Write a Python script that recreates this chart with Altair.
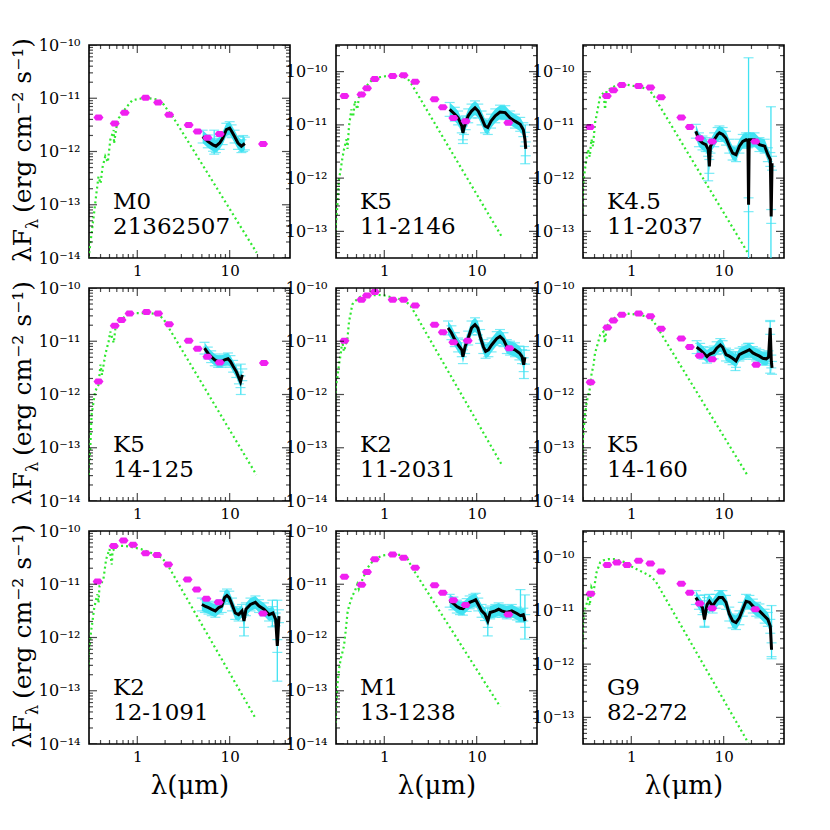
import altair as alt
import pandas as pd

FONT = "DejaVu Serif"
GREEN = "#2fe82f"
MAGENTA = "#f020f0"
CYAN = "#40e2f2"

PANEL_W, PANEL_H = 201, 213
X_DOMAIN = [0.3, 45.0]
X_LABEL_VALUES = [1, 10]
X_MINOR = [0.3, 0.4, 0.5, 0.6, 0.7, 0.8, 0.9, 2, 3, 4, 5, 6, 7, 8, 9, 20, 30, 40]

SPTYPE = ["M0", "K5", "K4.5", "K5", "K2", "K5", "K2", "M1", "G9"]
STAR_ID = ["21362507", "11-2146", "11-2037", "14-125", "11-2031", "14-160",
           "12-1091", "13-1238", "82-272"]
# log10 of the y-axis range (erg cm^-2 s^-1)
LOGY_RANGE = [(-14, -10), (-13.5, -9.5), (-13.5, -9.5),
              (-14, -10), (-14, -10), (-14, -10),
              (-14, -10), (-14, -10), (-13.5, -9.5)]

YTITLE = ["λF", "λ", "(erg cm⁻² s⁻¹)"]
XTITLE = "λ(μm)"

# photometry: wavelength (um) and log10(lambda F_lambda)
PHOT_WL = [
    [0.38, 0.57, 0.73, 1.23, 1.68, 2.21, 3.6, 4.5, 5.75, 7.8, 23],
    [0.37, 0.566, 0.65, 0.79, 1.23, 1.62, 2.16, 3.5, 4.3, 5.6, 7.6, 22],
    [0.357, 0.543, 0.64, 0.79, 1.2, 1.61, 2.1, 3.48, 4.3, 5.5, 7.5, 22],
    [0.38, 0.57, 0.675, 0.825, 1.26, 1.68, 2.21, 3.6, 4.5, 5.75, 7.8, 23.5],
    [0.37, 0.566, 0.65, 0.79, 1.23, 1.62, 2.16, 3.5, 4.3, 5.6, 8.0, 22.6],
    [0.363, 0.55, 0.64, 0.79, 1.2, 1.61, 2.1, 3.48, 4.3, 5.5, 7.5, 22.5],
    [0.372, 0.556, 0.71, 0.9, 1.23, 1.64, 2.16, 3.5, 4.4, 5.6, 7.6, 23],
    [0.37, 0.566, 0.65, 0.79, 1.23, 1.62, 2.16, 3.5, 4.3, 5.6, 7.6, 22],
    [0.363, 0.55, 0.70, 0.9, 1.2, 1.61, 2.1, 3.48, 4.3, 5.5, 7.5, 22],
]
PHOT_LOGF = [
    [-11.36, -11.475, -11.27, -10.99, -11.08, -11.31, -11.5, -11.625, -11.74, -11.67, -11.86],
    [-10.46, -10.43, -10.31, -10.14, -10.08, -10.07, -10.19, -10.52, -10.67, -10.87, -10.93, -10.96],
    [-11.04, -10.46, -10.35, -10.25, -10.27, -10.30, -10.48, -10.86, -11.04, -11.25, -11.31, -11.31],
    [-11.755, -10.71, -10.6, -10.48, -10.45, -10.48, -10.68, -10.99, -11.14, -11.29, -11.40, -11.41],
    [-10.99, -10.22, -10.14, -10.075, -10.22, -10.22, -10.33, -10.69, -10.83, -11.02, -10.99, -11.13],
    [-11.77, -10.74, -10.61, -10.5, -10.48, -10.53, -10.765, -10.95, -11.11, -11.27, -11.34, -11.44],
    [-10.95, -10.28, -10.18, -10.26, -10.42, -10.45, -10.63, -10.91, -11.1, -11.27, -11.34, -11.55],
    [-10.86, -11.01, -10.77, -10.53, -10.44, -10.5, -10.69, -11.02, -11.16, -11.3, -11.39, -11.57],
    [-10.68, -10.14, -10.09, -10.14, -10.06, -10.11, -10.26, -10.49, -10.66, -10.86, -10.95, -10.97],
]

# photospheric model: (wavelength um, log10 flux)
MODEL = [
    [(0.297, -14.0), (0.337, -13.22), (0.36, -12.8), (0.38, -12.47), (0.40, -12.6), (0.42, -12.3),
     (0.45, -12.09), (0.48, -12.2), (0.51, -11.78), (0.556, -11.6), (0.56, -11.85), (0.6, -11.5),
     (0.63, -11.375), (0.746, -11.19), (0.88, -11.04), (1.04, -11.01), (1.34, -11.0), (1.72, -11.03),
     (1.95, -11.125), (2.12, -11.22), (2.41, -11.34), (19.6, -13.9)],
    [(0.285, -13.35), (0.297, -12.97), (0.31, -12.53), (0.323, -12.03), (0.337, -11.84), (0.35, -11.65),
     (0.366, -11.46), (0.39, -11.27), (0.40, -11.45), (0.415, -11.02), (0.44, -10.71), (0.46, -10.85),
     (0.48, -10.55), (0.51, -10.71), (0.53, -10.49), (0.6, -10.33), (0.715, -10.18), (0.85, -10.11),
     (1.09, -10.08), (1.52, -10.08), (1.8, -10.14), (1.95, -10.22), (18.7, -13.1)],
    [(0.283, -13.6), (0.29, -12.97), (0.30, -12.15), (0.315, -11.84), (0.33, -11.59), (0.34, -11.46),
     (0.355, -11.6), (0.37, -11.27), (0.385, -11.4), (0.405, -10.96), (0.42, -10.83), (0.46, -10.46),
     (0.5, -10.40), (0.52, -10.71), (0.54, -10.36), (0.615, -10.30), (0.73, -10.24), (0.86, -10.24),
     (1.15, -10.28), (1.55, -10.33), (1.75, -10.46), (18.5, -13.42)],
    [(0.297, -13.51), (0.31, -13.0), (0.32, -12.38), (0.35, -11.94), (0.38, -11.82), (0.4, -11.44),
     (0.415, -11.63), (0.45, -11.25), (0.49, -11.0), (0.51, -10.82), (0.556, -11.03), (0.58, -10.75),
     (0.66, -10.6), (0.78, -10.5), (0.96, -10.47), (1.34, -10.47), (1.72, -10.5), (1.95, -10.6),
     (19.5, -13.51)],
    [(0.285, -12.63), (0.297, -11.88), (0.31, -11.69), (0.323, -11.44), (0.337, -11.25), (0.35, -11.0),
     (0.366, -11.19), (0.4, -10.94), (0.415, -10.63), (0.43, -10.5), (0.45, -10.31), (0.48, -10.25),
     (0.556, -10.16), (0.66, -10.14), (0.85, -10.13), (1.0, -10.14), (1.29, -10.19), (1.65, -10.22),
     (1.95, -10.35), (18.7, -13.32)],
    [(0.29, -13.51), (0.30, -12.82), (0.315, -12.38), (0.33, -12.13), (0.357, -11.88), (0.37, -11.63),
     (0.39, -11.44), (0.405, -11.22), (0.42, -11.13), (0.46, -10.88), (0.5, -10.82), (0.52, -11.03),
     (0.54, -10.72), (0.615, -10.6), (0.73, -10.51), (0.9, -10.48), (1.15, -10.5), (1.55, -10.54),
     (1.75, -10.63), (18.0, -13.51)],
    [(0.29, -12.79), (0.30, -12.29), (0.315, -11.91), (0.34, -11.47), (0.357, -11.29), (0.37, -11.19),
     (0.38, -11.35), (0.39, -11.03), (0.405, -11.0), (0.43, -10.9), (0.46, -10.53), (0.5, -10.34),
     (0.53, -10.63), (0.54, -10.37), (0.615, -10.28), (0.73, -10.28), (0.86, -10.3), (1.1, -10.34),
     (1.55, -10.44), (1.83, -10.5), (2.07, -10.6), (18.7, -13.49)],
    [(0.285, -13.98), (0.297, -13.54), (0.31, -12.92), (0.323, -12.6), (0.337, -12.41), (0.366, -12.16),
     (0.38, -11.91), (0.40, -11.53), (0.415, -11.41), (0.45, -11.22), (0.48, -11.13), (0.51, -11.0),
     (0.53, -11.09), (0.58, -10.91), (0.66, -10.69), (0.78, -10.53), (0.96, -10.46), (1.18, -10.44),
     (1.52, -10.45), (1.8, -10.53), (2.0, -10.69), (18.0, -13.3)],
    [(0.29, -11.91), (0.30, -11.22), (0.315, -10.97), (0.34, -10.78), (0.355, -10.9), (0.37, -10.56),
     (0.39, -10.65), (0.42, -10.28), (0.46, -10.09), (0.5, -10.05), (0.565, -10.03), (0.67, -10.03),
     (0.83, -10.08), (1.06, -10.19), (1.36, -10.28), (1.61, -10.35), (1.83, -10.44), (18.5, -13.48)],
]

# IRS spectrum: (wavelength um, log10 flux)
SPEC = [
    [(5.1, -11.72), (5.8, -11.81), (6.6, -11.875), (7.1, -11.9), (7.8, -11.84), (8.4, -11.75),
     (9.2, -11.59), (10.0, -11.56), (10.5, -11.62), (11.3, -11.72), (12.3, -11.84), (13.4, -11.9),
     (14.6, -11.85)],
    [(5.1, -10.71), (5.8, -10.8), (6.3, -10.87), (6.9, -11.02), (7.1, -11.15), (7.3, -11.05),
     (7.6, -10.96), (8.1, -10.83), (8.8, -10.74), (9.6, -10.68), (10.4, -10.74), (11.3, -10.87),
     (12.3, -11.02), (13.2, -11.05), (14.3, -10.93), (15.9, -10.83), (17.9, -10.76), (20.4, -10.77),
     (23, -10.87), (26, -10.93), (29.6, -10.99), (32, -11.09), (33.3, -11.27), (34, -11.45)],
    [(5.0, -11.12), (5.4, -11.28), (5.9, -11.34), (6.4, -11.37), (6.8, -11.46), (7.0, -11.78),
     (7.2, -11.4), (7.9, -11.28), (8.6, -11.18), (9.0, -11.15), (9.75, -11.18), (10.6, -11.25),
     (11.5, -11.4), (12.5, -11.53), (13.6, -11.56), (14.8, -11.4), (16.1, -11.31), (17.5, -11.28),
     (18.3, -11.3), (18.6, -12.5), (18.9, -11.28), (21.6, -11.28), (24.4, -11.37), (27.8, -11.4),
     (30.1, -11.56), (32.0, -11.65), (32.7, -12.72), (33.4, -11.72)],
    [(5.34, -11.13), (5.8, -11.22), (6.3, -11.29), (6.9, -11.35), (7.5, -11.38), (8.1, -11.38),
     (8.8, -11.35), (9.6, -11.33), (10.2, -11.38), (10.9, -11.47), (11.8, -11.57), (12.6, -11.69),
     (13.1, -11.76), (13.7, -11.63)],
    [(4.9, -10.75), (5.33, -10.84), (5.8, -10.97), (6.3, -11.07), (6.9, -11.16), (7.1, -11.29),
     (7.5, -11.1), (8.1, -10.94), (8.8, -10.75), (9.6, -10.69), (10.3, -10.75), (10.9, -10.91),
     (11.8, -11.1), (12.5, -11.19), (13.4, -11.16), (14.5, -11.07), (16.5, -10.95), (17.9, -10.91),
     (19.5, -10.97), (21.2, -11.1), (23, -11.13), (26, -11.16), (29, -11.22), (31, -11.29),
     (32.3, -11.44), (33.3, -11.3)],
    [(5.1, -11.11), (5.56, -11.16), (6.05, -11.22), (6.6, -11.29), (7.1, -11.24), (7.8, -11.21),
     (8.4, -11.13), (9.2, -11.07), (9.75, -11.11), (10.6, -11.25), (11.5, -11.28), (12.5, -11.32),
     (13.6, -11.37), (14.8, -11.25), (16.1, -11.22), (17.5, -11.19), (19.0, -11.16), (20.7, -11.22),
     (22.5, -11.25), (24.4, -11.28), (26.5, -11.32), (28.9, -11.33), (30.6, -11.3), (31.9, -10.75),
     (32.8, -11.38), (33.4, -11.5)],
    [(5.0, -11.38), (5.4, -11.41), (5.9, -11.44), (6.4, -11.47), (7.0, -11.5), (7.6, -11.44),
     (8.2, -11.41), (8.8, -11.25), (9.35, -11.21), (9.9, -11.25), (10.6, -11.38), (11.5, -11.54),
     (12.5, -11.57), (13.6, -11.5), (14.3, -11.69), (15.0, -11.47), (16.8, -11.38), (19.0, -11.34),
     (20.8, -11.41), (23.5, -11.47), (26.7, -11.57), (29.4, -11.54), (31.5, -11.66), (32.8, -12.16),
     (34.2, -11.6)],
    [(5.1, -11.31), (5.6, -11.36), (6.1, -11.42), (6.6, -11.45), (7.1, -11.46), (7.8, -11.39),
     (8.4, -11.34), (9.2, -11.31), (9.75, -11.29), (10.4, -11.38), (11.3, -11.5), (12.3, -11.56),
     (13.2, -11.69), (14.0, -11.53), (15.9, -11.5), (17.3, -11.47), (18.7, -11.5), (21.2, -11.53),
     (24, -11.5), (27.3, -11.55), (29.8, -11.59), (32, -11.57), (33.5, -11.69)],
    [(5.0, -10.75), (5.4, -10.84), (5.9, -10.94), (6.2, -11.16), (6.6, -10.88), (7.0, -10.82),
     (7.6, -10.91), (8.2, -10.82), (8.9, -10.75), (9.7, -10.75), (10.6, -10.84), (11.5, -11.06),
     (12.5, -11.19), (13.6, -11.22), (14.8, -11.13), (16.1, -10.97), (17.5, -10.82), (19, -10.84),
     (20.7, -10.91), (22.5, -10.97), (24.4, -11.0), (27.8, -11.1), (30.1, -11.16), (32, -11.29),
     (33, -11.73)],
]
# half-width of the cyan error envelope, in dex
SPEC_ERR_DEX = [0.12, 0.13, 0.13, 0.11, 0.13, 0.12, 0.12, 0.12, 0.13]

# large individual error bars: (wavelength, log10 low, log10 high)
ERRBARS = [
    [(6.8, -12.05, -11.6), (14.0, -12.0, -11.7)],
    [(7.1, -11.35, -10.85), (33.5, -11.73, -11.0)],
    [(18.6, -13.6, -9.74), (32.5, -13.6, -10.66), (6.8, -12.05, -11.5)],
    [(13.2, -12.0, -11.43)],
    [(32.5, -11.7, -11.1)],
    [(31.9, -11.6, -10.61), (13.4, -11.55, -11.2), (18.3, -11.3, -11.04)],
    [(32.8, -12.82, -11.3), (14.3, -11.97, -11.5), (29.0, -11.8, -11.3)],
    [(13.2, -11.97, -11.45), (33.3, -12.03, -11.2), (29.8, -11.7, -11.1)],
    [(6.2, -11.31, -10.7), (33.0, -11.9, -10.9)],
]

SUP = str.maketrans("-0123456789", "⁻⁰¹²³⁴⁵⁶⁷⁸⁹")
PHOT_SHAPE = "M-1,0L-0.55,-0.6L0.55,-0.6L1,0L0.55,0.6L-0.55,0.6Z"


def y_label_expr(decades):
    expr = "''"
    for e in decades:
        expr = f"round(log(datum.value)/LN10) == {e} ? '{'10' + str(e).translate(SUP)}' : " + expr
    return expr


def panel(i):
    row, col = divmod(i, 3)
    lo, hi = LOGY_RANGE[i]
    ydom = [10.0 ** lo, 10.0 ** hi]
    xs = alt.Scale(type="log", domain=X_DOMAIN, nice=False)
    ys = alt.Scale(type="log", domain=ydom, nice=False)

    decades = [e for e in range(-15, -8) if lo <= e <= hi]
    xaxis_kw = dict(values=X_LABEL_VALUES, labelExpr="format(datum.value, 'd')", ticks=False,
                    domain=False, grid=False, labelFont=FONT, labelFontSize=15, labelPadding=5,
                    labelFlush=False, labelOverlap=False, labelColor="black")
    if row == 2:
        xaxis_kw.update(title=XTITLE, titleFont=FONT, titleFontSize=26, titleFontWeight="normal",
                        titlePadding=8, titleColor="black")
    else:
        xaxis_kw.update(title=None)
    xaxis = alt.Axis(**xaxis_kw)
    yaxis = alt.Axis(values=[10.0 ** e for e in decades], labelExpr=y_label_expr(decades),
                     ticks=False, domain=False, grid=False, labelFont=FONT, labelFontSize=16,
                     labelPadding=9, labelFlush=False, labelOverlap=False, labelColor="black",
                     title=None)
    X = alt.X("wl:Q", scale=xs, axis=xaxis)

    def Y(field):
        return alt.Y(f"{field}:Q", scale=ys, axis=yaxis)

    model_df = pd.DataFrame({"wl": [p[0] for p in MODEL[i]],
                             "f": [10.0 ** p[1] for p in MODEL[i]],
                             "i": list(range(len(MODEL[i])))})
    err = SPEC_ERR_DEX[i]
    spec_df = pd.DataFrame({"wl": [p[0] for p in SPEC[i]],
                            "f": [10.0 ** p[1] for p in SPEC[i]],
                            "lo": [10.0 ** (p[1] - err) for p in SPEC[i]],
                            "hi": [10.0 ** (p[1] + err) for p in SPEC[i]],
                            "i": list(range(len(SPEC[i])))})
    caps_df = pd.DataFrame({"wl": list(spec_df["wl"]) * 2,
                            "f": list(spec_df["lo"]) + list(spec_df["hi"])})
    eb_df = pd.DataFrame({"wl": [e[0] for e in ERRBARS[i]],
                          "lo": [10.0 ** e[1] for e in ERRBARS[i]],
                          "hi": [10.0 ** e[2] for e in ERRBARS[i]]})
    ebcaps_df = pd.DataFrame({"wl": list(eb_df["wl"]) * 2,
                              "f": list(eb_df["lo"]) + list(eb_df["hi"])})
    phot_df = pd.DataFrame({"wl": PHOT_WL[i], "f": [10.0 ** v for v in PHOT_LOGF[i]]})

    layers = []
    layers.append(alt.Chart(model_df).mark_line(color=GREEN, strokeDash=[2, 3], strokeWidth=2.2,
                                                clip=True)
                  .encode(x=X, y=Y("f"), order="i:Q"))
    layers.append(alt.Chart(spec_df).mark_area(color=CYAN, opacity=1, orient="vertical", clip=True)
                  .encode(x=X, y=Y("hi"), y2="lo:Q"))
    layers.append(alt.Chart(caps_df).mark_tick(color=CYAN, orient="horizontal", size=10,
                                               thickness=1.2, clip=True)
                  .encode(x=X, y=Y("f")))
    layers.append(alt.Chart(eb_df).mark_rule(color=CYAN, strokeWidth=1.3, clip=True)
                  .encode(x=X, y=Y("lo"), y2="hi:Q"))
    layers.append(alt.Chart(ebcaps_df).mark_tick(color=CYAN, orient="horizontal", size=10,
                                                 thickness=1.2, clip=True)
                  .encode(x=X, y=Y("f")))
    layers.append(alt.Chart(spec_df).mark_line(color="black", strokeWidth=3, clip=True)
                  .encode(x=X, y=Y("f"), order="i:Q"))
    layers.append(alt.Chart(phot_df).mark_point(shape=PHOT_SHAPE, filled=True, size=100,
                                                color=MAGENTA, opacity=1, clip=True)
                  .encode(x=X, y=Y("f")))

    lab_df = pd.DataFrame({"t": [SPTYPE[i]], "u": [STAR_ID[i]]})
    layers.append(alt.Chart(lab_df).mark_text(align="left", baseline="alphabetic", font=FONT,
                                              fontSize=23, color="black")
                  .encode(text="t:N", x=alt.value(24), y=alt.value(164)))
    layers.append(alt.Chart(lab_df).mark_text(align="left", baseline="alphabetic", font=FONT,
                                              fontSize=23, color="black")
                  .encode(text="u:N", x=alt.value(24), y=alt.value(189)))

    # inward ticks (major / minor) on all four sides
    xt = pd.DataFrame({"wl": X_LABEL_VALUES + X_MINOR,
                       "len": [16] * len(X_LABEL_VALUES) + [8] * len(X_MINOR)})
    ymaj = [10.0 ** e for e in decades]
    ymin = [m * 10.0 ** e for e in range(-15, -9) for m in range(2, 10)
            if ydom[0] <= m * 10.0 ** e <= ydom[1]]
    yt = pd.DataFrame({"f": ymaj + ymin, "len": [16] * len(ymaj) + [8] * len(ymin)})
    for ypos in (0, PANEL_H):
        layers.append(alt.Chart(xt).mark_tick(color="black", orient="vertical", thickness=1.2,
                                              clip=True)
                      .encode(x=X, y=alt.value(ypos), size=alt.Size("len:Q", scale=None)))
    for xpos in (0, PANEL_W):
        layers.append(alt.Chart(yt).mark_tick(color="black", orient="horizontal", thickness=1.2,
                                              clip=True)
                      .encode(y=Y("f"), x=alt.value(xpos), size=alt.Size("len:Q", scale=None)))

    if col == 0:
        t_df = pd.DataFrame({"a": [YTITLE[0]], "b": [YTITLE[1]], "c": [YTITLE[2]]})
        layers.append(alt.Chart(t_df).mark_text(angle=270, align="right", baseline="middle",
                                                font=FONT, fontSize=25, color="black")
                      .encode(text="a:N", x=alt.value(-66), y=alt.value(184)))
        layers.append(alt.Chart(t_df).mark_text(angle=270, align="left", baseline="middle",
                                                font=FONT, fontSize=16, color="black")
                      .encode(text="b:N", x=alt.value(-56), y=alt.value(184)))
        layers.append(alt.Chart(t_df).mark_text(angle=270, align="left", baseline="middle",
                                                font=FONT, fontSize=25, color="black")
                      .encode(text="c:N", x=alt.value(-66), y=alt.value(168)))

    return alt.layer(*layers).properties(width=PANEL_W, height=PANEL_H)


chart = alt.concat(*[panel(i) for i in range(9)], columns=3,
                   spacing={"row": 30, "column": 46}, bounds="flush").properties(
    padding={"left": 2, "top": 28, "right": 5, "bottom": 5}
).configure(background="white",
            view=alt.ViewConfig(stroke="black", strokeWidth=1.6))

chart.save("out.html", embed_options={"renderer": "svg", "actions": False})
